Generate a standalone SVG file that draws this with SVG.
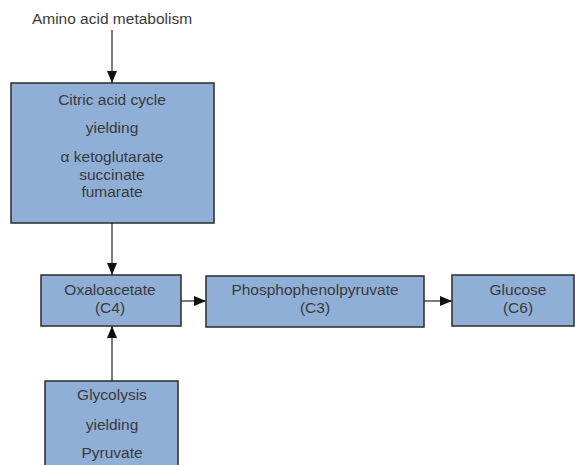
<svg xmlns="http://www.w3.org/2000/svg" width="575" height="465" viewBox="0 0 575 465">
<style>
.box{fill:#90afd7;stroke:#2b2b2b;stroke-width:1.5}
text{font-family:"Liberation Sans",Arial,sans-serif;font-size:15.5px;fill:#3a3a3a;text-anchor:middle}
.c{stroke:#333;stroke-width:1.3;fill:none}
</style>
<defs>
<marker id="ah" viewBox="0 0 12 10" refX="12" refY="5" markerWidth="12" markerHeight="10" markerUnits="userSpaceOnUse" orient="auto">
<path d="M0,0 L12,5 L0,10 Z" fill="#111"/>
</marker>
</defs>
<rect width="575" height="465" fill="#fff"/>
<g id="connectors">
<line class="c" x1="112" y1="30" x2="112" y2="83" marker-end="url(#ah)"/>
<line class="c" x1="112" y1="223" x2="112" y2="275" marker-end="url(#ah)"/>
<line class="c" x1="112" y1="381" x2="112" y2="326" marker-end="url(#ah)"/>
<line class="c" x1="181" y1="301" x2="206" y2="301" marker-end="url(#ah)"/>
<line class="c" x1="424" y1="301" x2="452" y2="301" marker-end="url(#ah)"/>
</g>
<g id="amino">
<text x="112" y="24">Amino acid metabolism</text>
</g>
<g id="citric">
<rect class="box" x="11" y="83" width="203" height="140"/>
<text x="112" y="105">Citric acid cycle</text>
<text x="112" y="133">yielding</text>
<text x="112" y="162">α ketoglutarate</text>
<text x="112" y="180">succinate</text>
<text x="112" y="197">fumarate</text>
</g>
<g id="oxaloacetate">
<rect class="box" x="41" y="275" width="140" height="51"/>
<text x="110" y="295">Oxaloacetate</text>
<text x="110" y="313">(C4)</text>
</g>
<g id="pep">
<rect class="box" x="206" y="276" width="218" height="51"/>
<text x="315" y="295">Phosphophenolpyruvate</text>
<text x="315" y="313">(C3)</text>
</g>
<g id="glucose">
<rect class="box" x="452" y="275" width="122" height="51"/>
<text x="518" y="295">Glucose</text>
<text x="518" y="313">(C6)</text>
</g>
<g id="glycolysis">
<rect class="box" x="45" y="381" width="133" height="90"/>
<text x="112" y="400">Glycolysis</text>
<text x="112" y="430">yielding</text>
<text x="112" y="458">Pyruvate</text>
</g>
</svg>
